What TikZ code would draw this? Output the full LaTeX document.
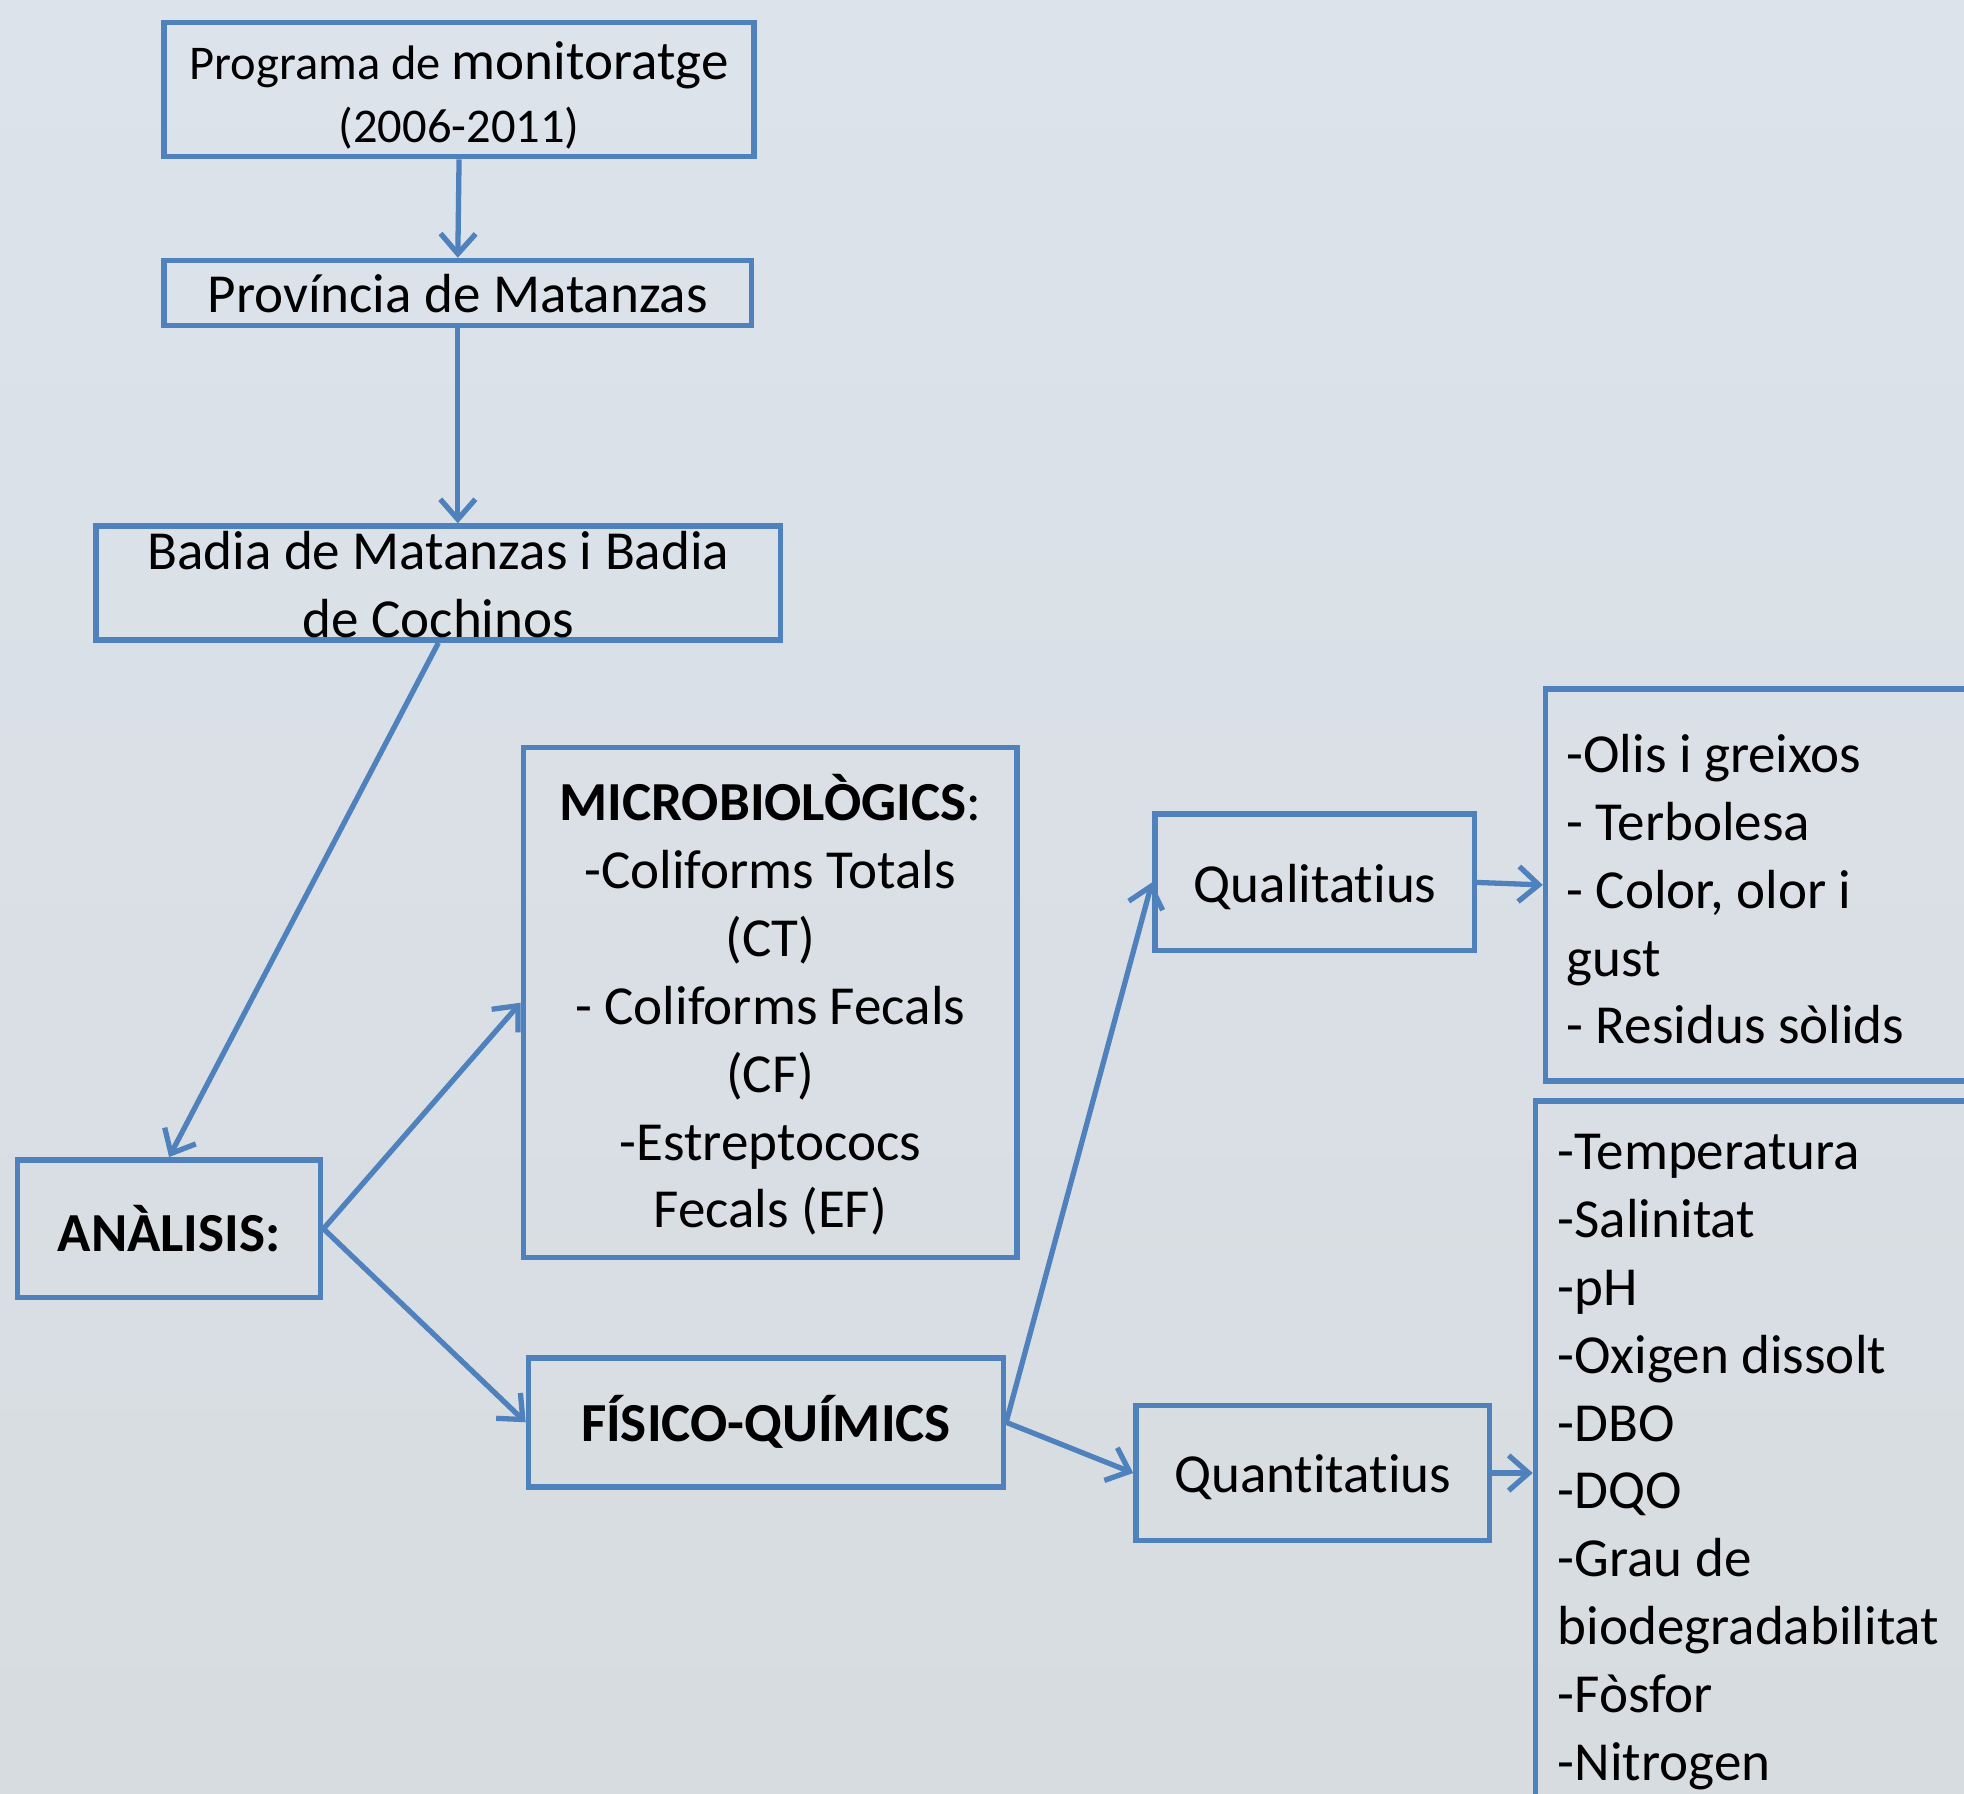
\documentclass[tikz,border=0pt]{standalone}
\usepackage{fontspec}
\setmainfont{Carlito}[Ligatures={NoCommon}]
\usetikzlibrary{arrows.meta}
\definecolor{bblue}{RGB}{79,129,189}
\definecolor{bgtop}{RGB}{220,227,235}
\definecolor{bgbot}{RGB}{215,220,224}
\tikzset{
  box/.style={draw=bblue, line width=1.25pt, rectangle, inner sep=0pt, align=center, font=\mainsize},
  txt/.style={inner sep=0pt, font=\mainsize},
  arr/.style={draw=bblue, line width=1.2pt, -{Straight Barb[length=1.6mm,width=2.8mm,line width=1.2pt]}}
}
\newcommand\mainsize{\fontsize{12.5pt}{15.4pt}\selectfont}
\newcommand\smallsz{\fontsize{11pt}{14pt}\selectfont}
\newcommand\nl{\kern0pt}
\begin{document}
\begin{tikzpicture}[x=0.01cm,y=-0.01cm]
\useasboundingbox (0,0) rectangle (1568,1432);
\shade[top color=bgtop, bottom color=bgbot] (0,0) rectangle (1568,1432);

\node[box, minimum width=4.71cm, minimum height=1.07cm] (b1) at (366.5,71.5) {};
\node[txt, align=center] (t1) at (366.5,76)
  {{\smallsz Programa de }monitoratge\\[-1pt]{\smallsz (2006-2011)}};
\node[box, minimum width=4.69cm, minimum height=0.52cm] (b2) at (365.5,234) {Província de Matanzas};
\node[box, minimum width=5.46cm, minimum height=0.91cm] (b3) at (350,465.5) {};
\node[txt, align=center] (t3) at (350,467) {Badia de Matanzas i Badia\\de Cochinos};
\node[box, minimum width=2.42cm, minimum height=1.10cm] (b4) at (135,981) {\textbf{ANÀLISIS:}};
\node[box, minimum width=3.94cm, minimum height=4.07cm] (b5) at (615,800.5) {};
\node[txt, align=center] (t5) at (615,802.5)
  {\textbf{MICROBIOLÒGICS}:\\-Coliforms Totals\\(CT)\\- Coliforms Fecals\\(CF)\\-Estreptococs\\Fecals (EF)};
\node[box, minimum width=3.79cm, minimum height=1.03cm] (b6) at (611.5,1135.5) {\textbf{FÍSICO-QUÍMICS}};
\node[box, minimum width=2.55cm, minimum height=1.09cm] (b7) at (1049.5,704.5) {};
\node[txt] (t7) at (1050,708) {Qualitat\nl ius};
\node[box, minimum width=2.82cm, minimum height=1.08cm] (b8) at (1048,1176) {};
\node[txt] (t8) at (1048,1179) {Quant\nl itat\nl ius};
\node[box, minimum width=3.66cm, minimum height=3.13cm] (b9) at (1417,706.5) {};
\node[txt, align=left, anchor=west] (t9) at (1250,710) {-Olis i greixos\\- Terbolesa\\- Color, olor i\\gust\\- Residus sòlids};
\node[box, minimum width=3.74cm, minimum height=5.81cm] (b10) at (1413,1169.5) {};
\node[txt, align=left, anchor=north west] (t10) at (1243,905)
  {-Temperatura\\-Salinitat\\-pH\\-Oxigen dissolt\\-DBO\\-DQO\\-Grau de\\biodegradabilitat\\-Fòsfor\\-Nitrogen};

\draw[arr] (b1.south) -- (b2.north);
\draw[arr] (b2.south) -- (b2.south |- b3.north);
\draw[arr] (b3.south) -- (b4.north);
\draw[arr] (b4.east) -- (b5.west);
\draw[arr] (b4.east) -- (b6.west);
\draw[arr] (b6.east) -- (b7.west);
\draw[arr] (b6.east) -- (b8.west);
\draw[arr] (b7.east) -- (b9.west);
\draw[arr] (b8.east) -- (b8.east -| b10.west);
\end{tikzpicture}
\end{document}
